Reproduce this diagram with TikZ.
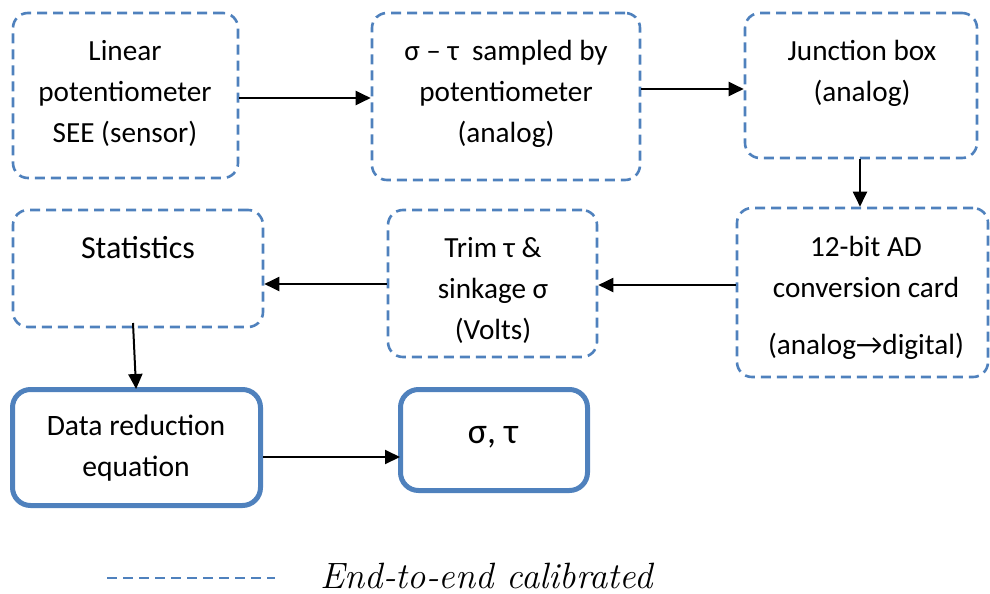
\documentclass[tikz,border=0pt]{standalone}
\usepackage{fontspec}
\setmainfont{Carlito}
\newfontfamily\legfont{Latin Modern Roman}
\usetikzlibrary{arrows.meta,calc}
\definecolor{boxblue}{RGB}{79,129,189}
\begin{document}
\begin{tikzpicture}[x=0.5pt,y=-0.5pt,
  dbox/.style={draw=boxblue,line width=1.3pt,dash pattern=on 5pt off 3pt,rounded corners=7.5pt,inner sep=0pt},
  sbox/.style={draw=boxblue,line width=2.5pt,rounded corners=9pt,inner sep=0pt},
  txt/.style={align=center,inner sep=0pt,font=\fontsize{14.6}{20.5}\selectfont},
  arr/.style={line width=1pt,-{Triangle[length=7.5pt,width=7pt]}}]
\useasboundingbox (0,0) rectangle (990,594);
% boxes
\node[dbox,minimum width=112.5pt,minimum height=82.5pt] (b1) at (125.5,95.5) {};
\node[dbox,minimum width=134pt,minimum height=83.5pt] (b2) at (506,96.5) {};
\node[dbox,minimum width=116pt,minimum height=72.5pt] (b3) at (861,85.5) {};
\node[dbox,minimum width=125.5pt,minimum height=84.5pt] (b4) at (862.5,292.5) {};
\node[dbox,minimum width=104.5pt,minimum height=73.5pt] (b5) at (492.5,283.5) {};
\node[dbox,minimum width=125pt,minimum height=58.5pt] (b6) at (138,268.5) {};
\node[sbox,minimum width=124pt,minimum height=58pt] (b7) at (136.5,447.5) {};
\node[sbox,minimum width=93.5pt,minimum height=50.5pt] (b8) at (494,440) {};
% texts
\node[txt] (t1) at (125,93) {Linear\\potentiometer\\SEE (sensor)};
\node[txt] (t2) at (506,94) {σ – τ\ \ sampled by\\potentiometer\\(analog)};
\node[txt] (t3) at (862,73) {Junction box\\(analog)};
\node[txt] (t4) at (866,298) {12-bit AD\\conversion card\\[8pt](analog→digital)};
\node[txt] (t5) at (493,290) {Trim τ \&\\sinkage σ\\(Volts)};
\node[txt,font=\fontsize{16}{20}\selectfont] (t6) at (138,248) {Statistics};
\node[txt,font=\fontsize{14.8}{20.5}\selectfont] (t7) at (136,448) {Data reduction\\equation};
\node[txt,font=\fontsize{18}{22}\selectfont] (t8) at (493,437) {σ, τ};
% arrows
\draw[arr] (b1.east |- 0,98) -- (b2.west |- 0,98);
\draw[arr] (b2.east |- 0,89) -- (b3.west |- 0,89);
\draw[arr] (b3.south -| 860,0) -- (b4.north -| 860,0);
\draw[arr] (b4.west |- 0,285) -- (b5.east |- 0,285);
\draw[arr] (b5.west |- 0,284) -- (b6.east |- 0,284);
\draw[arr,shorten >=-1pt] (133,323) -- (b7.north -| 136,0);
\draw[arr,shorten >=-1pt] (b7.east |- 0,457) -- (b8.west |- 0,457);
% legend
\coordinate (l1) at (107,578);
\coordinate (l2) at (275,578);
\draw[boxblue,line width=1.3pt,dash pattern=on 5pt off 3pt] (l1) -- (l2);
\node[anchor=base west,inner sep=0pt,font=\legfont\itshape\fontsize{18.3}{20}\selectfont] (leg) at (320,588) {End-to-end calibrated};
\end{tikzpicture}
\end{document}
